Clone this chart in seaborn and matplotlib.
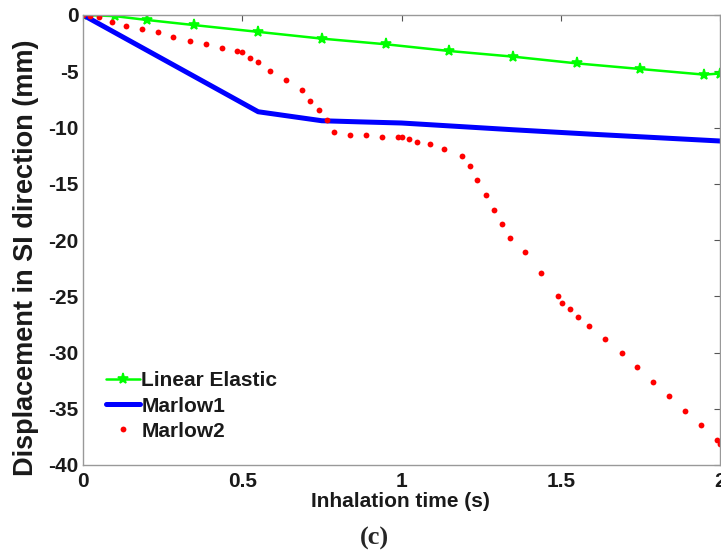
import matplotlib
matplotlib.use("Agg")
import matplotlib.pyplot as plt
import seaborn as sns
import numpy as np

# Linear Elastic (green, star markers)
le_t = [0.0, 0.1, 0.2, 0.35, 0.55, 0.75, 0.95, 1.15, 1.35, 1.55, 1.75, 1.95, 2.0]
le_d = [0.0, -0.1, -0.44, -0.9, -1.5, -2.1, -2.6, -3.2, -3.7, -4.3, -4.8, -5.3, -5.2]

# Marlow1 (blue thick line)
m1_t = [0.0, 0.55, 0.75, 0.87, 1.0, 1.35, 1.6, 2.0]
m1_d = [0.0, -8.6, -9.4, -9.5, -9.6, -10.2, -10.6, -11.2]

# Marlow2 (red dots)
m2_t = [0.0, 0.022, 0.05, 0.09, 0.135, 0.186, 0.237, 0.284, 0.336, 0.387, 0.436,
        0.485, 0.5, 0.523, 0.548, 0.588, 0.637, 0.688, 0.714, 0.74, 0.765, 0.787,
        0.837, 0.887, 0.94, 0.99, 1.0, 1.025, 1.05, 1.088, 1.135, 1.19, 1.214,
        1.238, 1.264, 1.289, 1.314, 1.34, 1.387, 1.437, 1.49, 1.503, 1.528, 1.553,
        1.588, 1.638, 1.692, 1.739, 1.789, 1.84, 1.89, 1.94, 1.99, 2.0]
m2_d = [0.0, -0.1, -0.2, -0.6, -1.0, -1.25, -1.5, -1.95, -2.3, -2.6, -2.9,
        -3.2, -3.3, -3.8, -4.2, -5.0, -5.8, -6.7, -7.6, -8.4, -9.3, -10.4,
        -10.7, -10.7, -10.8, -10.8, -10.8, -11.0, -11.3, -11.5, -11.9, -12.5, -13.4,
        -14.7, -16.0, -17.3, -18.6, -19.8, -21.1, -22.9, -25.0, -25.6, -26.1, -26.8,
        -27.6, -28.8, -30.0, -31.3, -32.6, -33.9, -35.2, -36.4, -37.8, -38.1]

x_ticks = [0, 0.5, 1, 1.5, 2]
x_ticklabels = ["0", "0.5", "1", "1.5", "2"]
y_ticks = [0, -5, -10, -15, -20, -25, -30, -35, -40]
y_ticklabels = ["0", "-5", "-10", "-15", "-20", "-25", "-30", "-35", "-40"]

sns.set_theme(style="white")
plt.rcParams['font.family'] = ['Liberation Sans', 'DejaVu Sans']
plt.rcParams['font.weight'] = 'bold'

fig = plt.figure(figsize=(7.21, 5.58), dpi=100)
ax = fig.add_axes([83/721, 1 - 465/558, 637/721, 450/558])

sns.lineplot(x=le_t, y=le_d, ax=ax, color="#00ff00", linewidth=1.8,
             marker="*", markersize=8, markeredgewidth=1.2, markeredgecolor="#00ff00",
             label="Linear Elastic", sort=False, estimator=None)
sns.lineplot(x=m1_t, y=m1_d, ax=ax, color="#0000ff", linewidth=3.6,
             label="Marlow1", sort=False, estimator=None)
sns.lineplot(x=m2_t, y=m2_d, ax=ax, color="#ff0000", linestyle="none",
             marker="o", markersize=4.2, markeredgewidth=0,
             label="Marlow2", sort=False, estimator=None)

ax.set_xlim(0, 2)
ax.set_ylim(-40, 0)
ax.set_xticks(x_ticks)
ax.set_xticklabels(x_ticklabels)
ax.set_yticks(y_ticks)
ax.set_yticklabels(y_ticklabels)
ax.tick_params(axis='both', which='both', direction='in', length=4, width=0.8,
               color="#555555", top=True, right=True, labelsize=15, pad=3,
               labelcolor="#1a1a1a")
ax.tick_params(axis='x', pad=5)
for lab in ax.get_xticklabels() + ax.get_yticklabels():
    lab.set_fontweight('bold')
for sp in ax.spines.values():
    sp.set_color("#999999")
    sp.set_linewidth(1.0)
ax.grid(False)

ax.set_xlabel("Inhalation time (s)", fontsize=15, fontweight='bold', color="#1a1a1a")
ax.xaxis.set_label_coords((400 - 83) / 637, -(492 - 465) / 450)
ax.set_ylabel("Displacement in SI direction (mm)", fontsize=19.5, fontweight='bold', color="#1a1a1a")
ax.yaxis.set_label_coords(-(83 - 39) / 637, (465 - 258) / 450)

leg = ax.legend(loc="center left", bbox_to_anchor=((106 - 83) / 637, (465 - 406) / 450),
                frameon=False, fontsize=15, handlelength=1.65, handletextpad=0.05,
                labelspacing=0.3, borderaxespad=0, borderpad=0)
for t in leg.get_texts():
    t.set_fontweight('bold')
    t.set_color("#1a1a1a")

fig.text(374 / 721, 1 - 538 / 558, "(c)", ha="center", va="center",
         fontsize=19, fontweight='bold', family=['Liberation Serif', 'DejaVu Serif'])

fig.savefig("out.png", dpi=100)
